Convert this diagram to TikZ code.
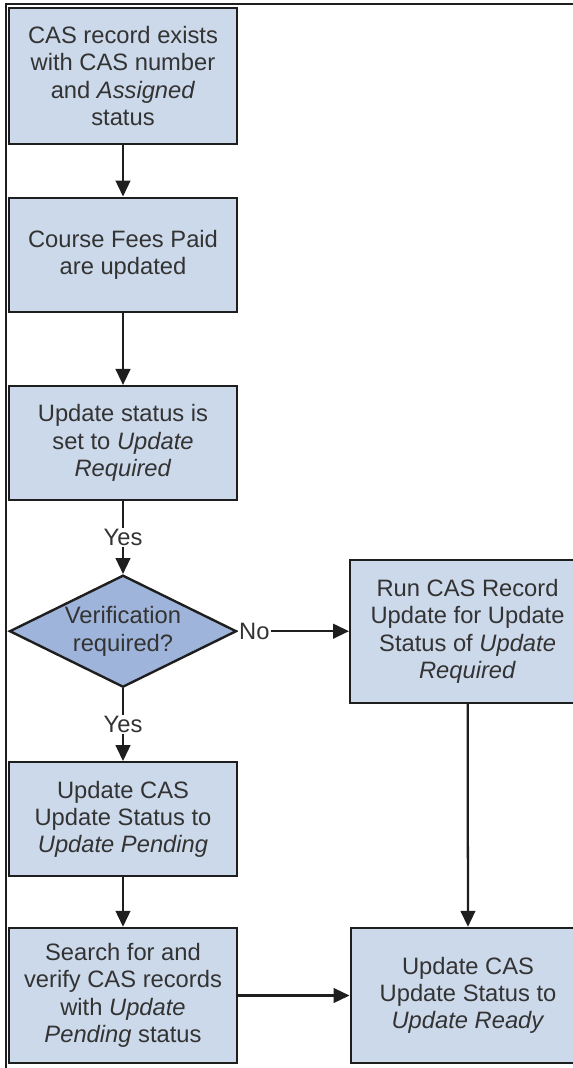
\documentclass[tikz,border=0pt]{standalone}
\usepackage{fontspec}
\setmainfont{Liberation Sans}
\usetikzlibrary{arrows.meta, positioning, shapes.geometric}
\definecolor{flowblue}{HTML}{CCD9EA}
\definecolor{flowdark}{HTML}{9FB4DA}
\definecolor{flowline}{HTML}{1E1E1E}
\definecolor{flowtext}{HTML}{333333}

\begin{document}
\begin{tikzpicture}[
      procbox/.style={rectangle, minimum width=171pt, align=center,
                      font=\fontsize{17.8pt}{20.5pt}\selectfont, text=flowtext,
                      fill=flowblue, draw=flowline, line width=1.8pt},
      decision/.style={diamond, shape aspect=2, inner sep=0pt,
                       minimum width=170.25pt, minimum height=84pt, align=center,
                       font=\fontsize{17.8pt}{20.5pt}\selectfont, text=flowtext,
                       fill=flowdark, draw=flowline, line width=1.8pt},
      arr/.style={-{Triangle[length=12pt, width=11pt]}, line width=1.7pt,
                  color=flowline},
      answer/.style={font=\fontsize{17.8pt}{20.5pt}\selectfont, text=flowtext,
                     fill=white, inner sep=1pt},
    ]
      \useasboundingbox (0,0) rectangle (429.75pt,-801pt);
      % frame
      \draw[line width=0.8pt, color=flowline] (4.5pt,-801pt) |- (429.75pt,-3pt);

      \node[procbox, minimum height=102pt] (exists) at (92.25pt,-57pt)
            {CAS record exists\\with CAS number\\and \textit{Assigned}\\status};
      \node[procbox, minimum height=85.5pt, below=38.5pt of exists] (fees)
            {Course Fees Paid\\are updated};
      \node[procbox, minimum height=85.5pt, below=54pt of fees] (required)
            {Update status is\\set to \textit{Update}\\\textit{Required}};
      \node[decision, below=54.5pt of required] (verify) {Verification\\required?};
      \node[procbox, minimum width=176pt, minimum height=107.25pt,
            right=83.5pt of verify] (runupd)
            {Run CAS Record\\Update for Update\\Status of \textit{Update}\\\textit{Required}};
      \node[procbox, minimum height=85.5pt, below=54.5pt of verify] (pending)
            {Update CAS\\Update Status to\\\textit{Update Pending}};
      \node[procbox, minimum height=101.25pt, below=37pt of pending] (search)
            {Search for and\\verify CAS records\\with \textit{Update}\\\textit{Pending} status};
      \node[procbox, minimum width=176pt, minimum height=101.25pt,
            right=83.5pt of search] (ready)
            {Update CAS\\Update Status to\\\textit{Update Ready}};

      \draw[arr] (exists) -- (fees);
      \draw[arr] (fees) -- (required);
      \draw[arr] (required) -- node[answer]{Yes} (verify);
      \draw[arr] (verify) -- node[answer, pos=0.15]{No} (runupd);
      \draw[arr] (verify) -- node[answer]{Yes} (pending);
      \draw[arr] (pending) -- (search);
      \draw[arr] (search) -- (ready);
      \draw[arr] (runupd) -- (ready);
    \end{tikzpicture}
\end{document}
